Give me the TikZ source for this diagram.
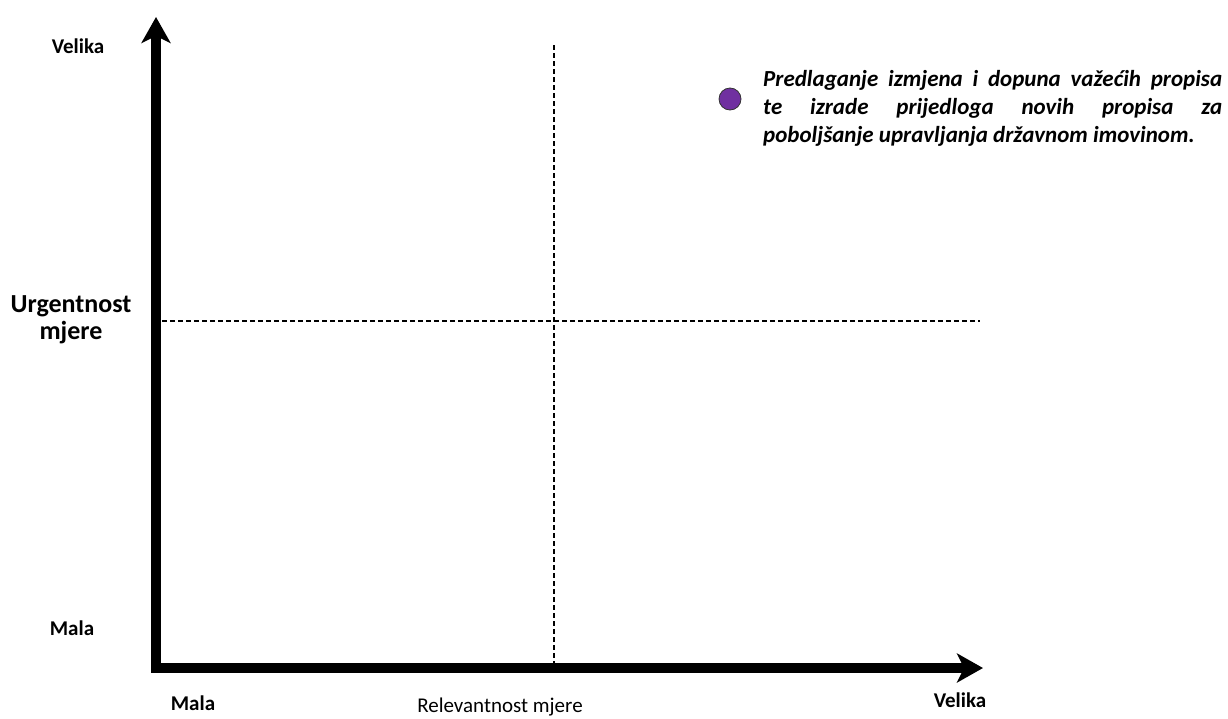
\documentclass[tikz,border=0pt]{standalone}
\usepackage{fontspec}
\setmainfont{Carlito}
\usepackage{xcolor}
\usetikzlibrary{arrows.meta, positioning}
\definecolor{dotpurple}{HTML}{7030A0}

\begin{document}
\begin{tikzpicture}[
  x=1pt, y=-1pt,
  axis/.style={line width=10pt, line join=miter,
               {Stealth[length=26pt, width=29pt, inset=7pt]}-{Stealth[length=26pt, width=29pt, inset=7pt]}},
  split/.style={line width=1.4pt, dash pattern=on 5pt off 3pt},
  tick/.style={font=\fontsize{21}{24}\selectfont\bfseries, inner sep=0pt},
  title/.style={font=\fontsize{21}{26}\selectfont, inner sep=0pt},
  dot/.style={circle, draw=black!80, line width=0.8pt, fill=dotpurple,
              minimum size=22pt, inner sep=0pt}
]
  \useasboundingbox (0,0) rectangle (1228,718);

  % Axes
  \coordinate (origin) at (156,668);
  \coordinate (ytip) at (156,17);
  \coordinate (xtip) at (983,668);
  \draw[axis] (ytip) -- (origin) -- (xtip);

  % Quadrant split
  \coordinate (vtop) at (554,45);
  \coordinate (vbot) at (554,663);
  \coordinate (hleft) at (162,321);
  \coordinate (hright) at (980,321);
  \draw[split] (vtop) -- (vbot);
  \draw[split] (hleft) -- (hright);

  % Axis labels
  \node[tick] (yhigh) at (78,46) {Velika};
  \node[tick] (ylow) at (72,628) {Mala};
  \node[tick] (xlow) at (193,703) {Mala};
  \node[tick] (xhigh) at (960,700) {Velika};
  \node[title, font=\fontsize{26}{27}\selectfont\bfseries, align=center]
    (ytitle) at (71,320) {Urgentnost\\mjere};
  \node[title] (xtitle) at (500,707) {Relevantnost mjere};

  % Legend
  \node[dot] (measure) at (730,99) {};
  \node[anchor=north west, inner sep=0pt, text width=459pt, align=justify,
        font=\fontsize{23}{28}\selectfont\bfseries\itshape]
    (measuretext) at (763,70)
    {\hyphenpenalty=10000 Predlaganje izmjena i dopuna važećih propisa\linebreak
     te izrade prijedloga novih propisa za\linebreak
     poboljšanje upravljanja državnom imovinom.};
\end{tikzpicture}
\end{document}
